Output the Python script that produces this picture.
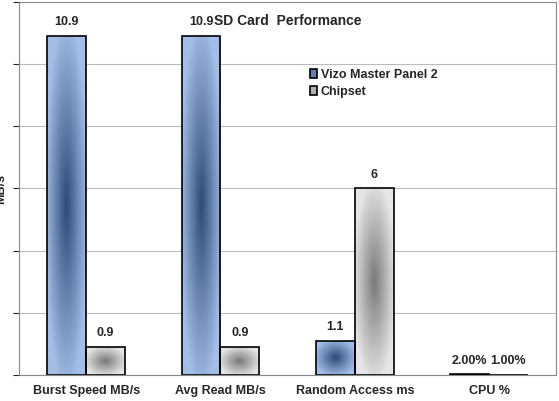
import numpy as np, pandas as pd, seaborn as sns, matplotlib.pyplot as plt
from matplotlib.colors import LinearSegmentedColormap

categories = ["Burst Speed MB/s", "Avg Read MB/s", "Random Access ms", "CPU %"]
vizo = [10.9, 10.9, 1.1, 0.02]
chipset = [0.9, 0.9, 6.0, 0.01]
vizo_labels = ["10.9", "10.9", "1.1", "2.00%"]
chip_labels = ["0.9", "0.9", "6", "1.00%"]
series = ["Vizo Master Panel 2", "Chipset"]

df = pd.DataFrame({"cat": categories * 2, "val": vizo + chipset,
                   "series": [series[0]] * 4 + [series[1]] * 4})
sns.set_style("white")
plt.rcParams['font.family'] = ['Liberation Sans', 'DejaVu Sans']
fig = plt.figure(figsize=(5.59, 4.01), dpi=100)
ax = fig.add_axes([0.034, 0.065, 0.961, 0.93])
sns.barplot(data=df, x="cat", y="val", hue="series", width=0.58, ax=ax,
            palette=["#5a7fb5", "#b0b0b0"], edgecolor="black", linewidth=1.2, legend=True)
ax.set_ylim(0, 12)
ax.set_xlim(-0.5, 3.5)
ax.set_yticks([0, 2, 4, 6, 8, 10, 12])
ax.set_yticklabels([])
ax.tick_params(axis='y', length=4, left=True, direction='out')
ax.yaxis.grid(True, color="#bbbbbb", linewidth=0.8)
ax.set_axisbelow(True)
for s in ax.spines.values():
    s.set_color("#888888")
ax.set_xlabel("")
ax.set_ylabel("MB/s", fontsize=9, fontweight="bold", labelpad=1)
ax.yaxis.set_label_coords(-0.022, 0.5)
ax.tick_params(axis='x', labelsize=9)
for t in ax.get_xticklabels():
    t.set_fontweight("bold")

cmaps = [LinearSegmentedColormap.from_list("b", ["#a3bfe8", "#2e4a78"]),
         LinearSegmentedColormap.from_list("g", ["#e6e6e6", "#7a7a7a"])]
yy, xx = np.mgrid[-1:1:200j, -1:1:200j]
labels = [vizo_labels, chip_labels]
for i, cont in enumerate(ax.containers):
    for j, p in enumerate(cont.patches):
        x0, y0, w, h = p.get_x(), p.get_y(), p.get_width(), p.get_height()
        r = np.clip(np.sqrt(xx ** 2 + yy ** 2) * 0.9, 0, 1)
        im = ax.imshow(1 - r, extent=[x0, x0 + w, y0, y0 + h], cmap=cmaps[i],
                       aspect='auto', zorder=p.get_zorder(), origin='lower')
        im.set_clip_path(p)
        p.set_facecolor("none")
        p.set_zorder(p.get_zorder() + 0.1)
        ax.text(x0 + w / 2, h + 0.25, labels[i][j], ha="center", va="bottom",
                fontsize=9, fontweight="bold")
ax.set_xlim(-0.5, 3.5)
ax.set_ylim(0, 12)
ax.text(0.5, 0.95, "SD Card  Performance", transform=ax.transAxes, ha="center",
        va="center", fontsize=10, fontweight="bold")
leg = ax.legend(loc="upper left", bbox_to_anchor=(0.52, 0.85), frameon=False,
                fontsize=9, handlelength=0.6, handletextpad=0.3, labelspacing=0.4)
for t in leg.get_texts():
    t.set_fontweight("bold")
fig.savefig("out.png", dpi=100)
